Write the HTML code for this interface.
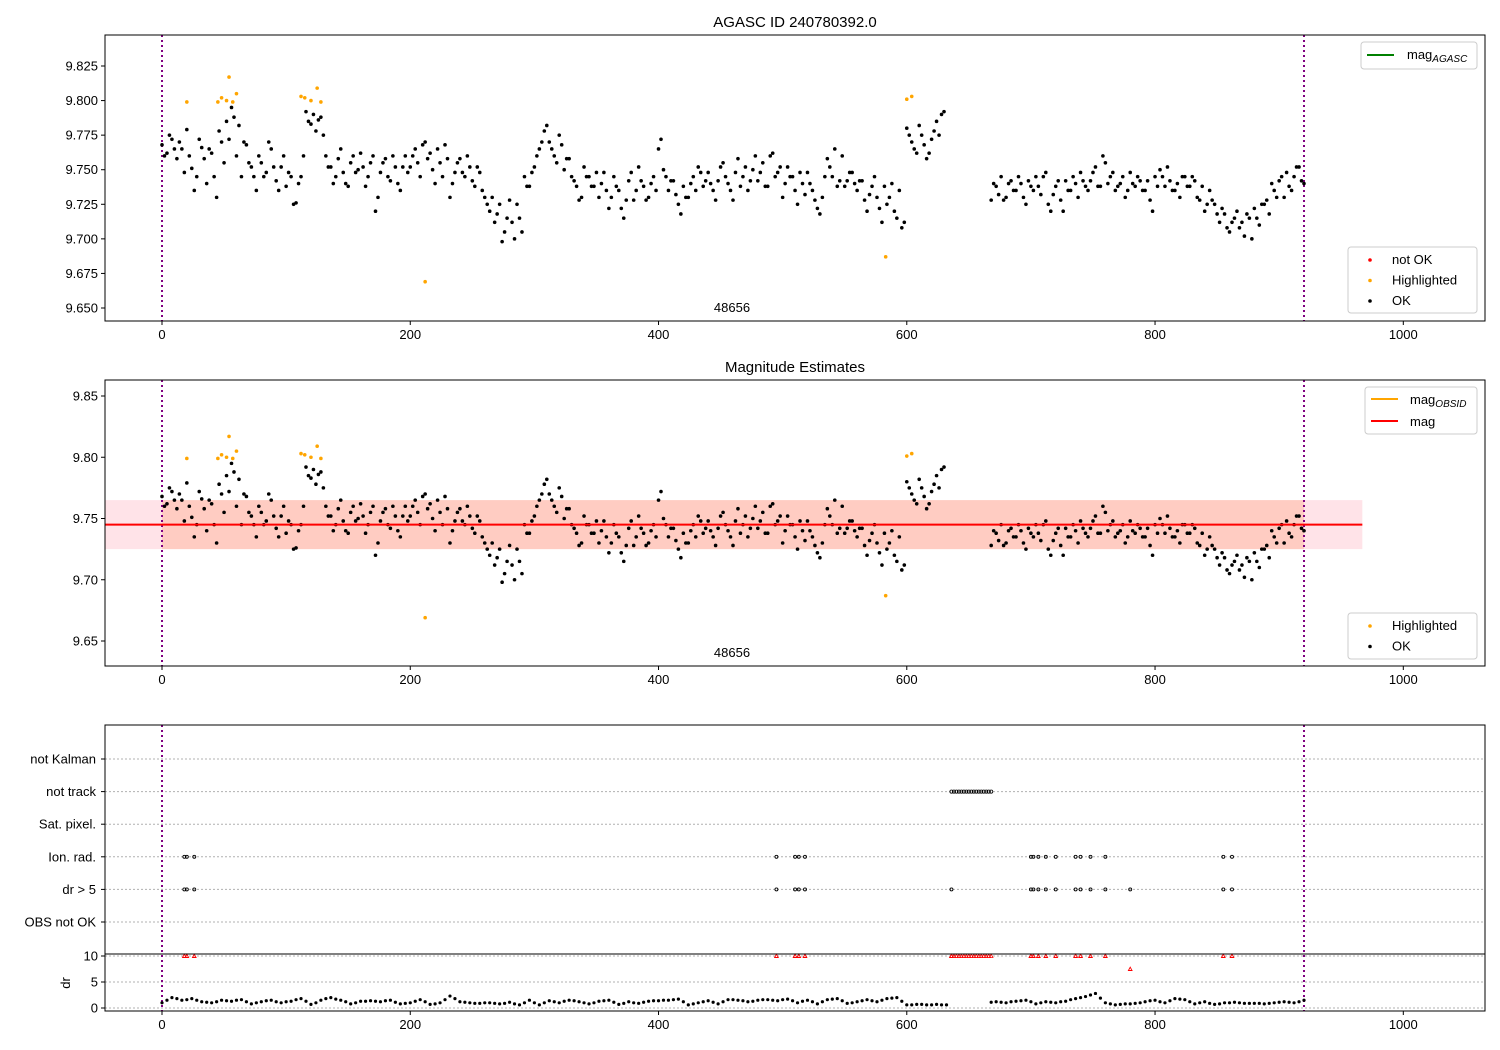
<!DOCTYPE html>
<html><head><meta charset="utf-8"><style>
body{margin:0;background:#fff}
svg{display:block;font-family:"Liberation Sans","DejaVu Sans",sans-serif}
</style></head><body>
<svg id="chart" width="1500" height="1050" xmlns="http://www.w3.org/2000/svg"></svg>
<script>
// ---- data ----
const magValues = [
9.768,9.762,9.772,9.758,9.765,9.779,9.751,9.745,9.766,9.740,
9.762,9.730,9.770,9.785,9.795,9.760,9.745,9.768,9.752,9.735,
9.755,9.748,9.765,9.742,9.752,9.738,9.745,9.726,9.745,9.792,
9.783,9.778,9.788,9.760,9.752,9.745,9.765,9.740,9.755,9.748,
9.762,9.738,9.755,9.720,9.748,9.758,9.742,9.752,9.735,9.760,
9.752,9.765,9.745,9.770,9.762,9.740,9.755,9.768,9.730,9.748,
9.758,9.745,9.752,9.738,9.748,9.730,9.720,9.712,9.725,9.705,
9.728,9.700,9.715,9.745,9.738,9.752,9.765,9.778,9.770,9.760,
9.775,9.750,9.758,9.742,9.728,9.752,9.745,9.738,9.730,9.748,
9.722,9.745,9.735,9.715,9.742,9.728,9.752,9.738,9.730,9.745,
9.765,9.750,9.735,9.742,9.725,9.738,9.730,9.745,9.752,9.738,
9.748,9.735,9.742,9.755,9.740,9.728,9.758,9.745,9.735,9.750,
9.742,9.755,9.738,9.762,9.748,9.730,9.752,9.745,9.725,9.740,
9.748,9.735,9.722,9.730,9.758,9.745,9.738,9.760,9.742,9.748,
9.735,9.742,9.720,9.738,9.730,9.712,9.725,9.740,9.715,9.708,
9.780,9.770,9.762,9.775,9.758,9.772,9.785,9.790,
null,null,null,null,null,null,null,null,null,
9.728,9.738,9.745,9.730,9.742,9.735,9.740,9.725,9.738,9.745,
9.732,9.748,9.720,9.738,9.728,9.742,9.735,9.740,9.748,9.738,
9.742,9.752,9.738,9.755,9.745,9.735,9.740,9.730,9.748,9.738,
9.742,9.735,9.728,9.745,9.750,9.738,9.742,9.735,9.730,9.745,
9.738,9.742,9.728,9.720,9.735,9.725,9.712,9.718,9.705,9.715,
9.708,9.702,9.715,9.722,9.710,9.725,9.718,9.735,9.742,9.730,
9.738,9.745,9.752,9.740];
const magValuesB = [
9.760,9.775,9.765,9.770,9.748,9.760,9.735,9.772,9.758,9.765,
9.745,9.778,9.755,9.772,9.788,9.782,9.770,9.755,9.745,9.760,
9.745,9.770,9.752,9.735,9.760,9.748,9.725,9.740,9.760,9.785,
9.790,9.786,9.775,9.752,9.740,9.758,9.748,9.738,9.760,9.750,
9.752,9.745,9.760,9.730,9.755,9.745,9.760,9.740,9.752,9.748,
9.760,9.755,9.768,9.758,9.750,9.765,9.745,9.758,9.740,9.755,
9.748,9.760,9.742,9.752,9.735,9.725,9.730,9.718,9.698,9.715,
9.712,9.725,9.705,9.738,9.748,9.760,9.770,9.782,9.765,9.755,
9.768,9.758,9.745,9.738,9.730,9.745,9.738,9.748,9.740,9.735,
9.730,9.738,9.722,9.728,9.748,9.735,9.742,9.728,9.740,9.735,
9.772,9.745,9.742,9.732,9.718,9.730,9.740,9.735,9.748,9.742,
9.740,9.728,9.752,9.745,9.735,9.748,9.738,9.752,9.742,9.760,
9.748,9.738,9.760,9.745,9.752,9.740,9.745,9.735,9.748,9.732,
9.740,9.728,9.718,9.745,9.752,9.765,9.742,9.738,9.748,9.740,
9.742,9.728,9.732,9.745,9.722,9.738,9.730,9.720,9.735,9.712,
9.775,9.765,9.782,9.768,9.762,9.778,9.775,9.792,
null,null,null,null,null,null,null,null,null,
9.740,9.732,9.728,9.740,9.735,9.745,9.730,9.742,9.735,9.738,
9.745,9.725,9.732,9.742,9.720,9.735,9.745,9.730,9.742,9.735,
9.748,9.738,9.760,9.740,9.748,9.738,9.745,9.735,9.740,9.745,
9.735,9.742,9.720,9.738,9.745,9.752,9.735,9.740,9.745,9.738,
9.745,9.730,9.738,9.725,9.728,9.718,9.722,9.708,9.712,9.720,
9.712,9.718,9.700,9.715,9.725,9.728,9.740,9.730,9.745,9.748,
9.735,9.752,9.742];
const magStep = 4, magOffsetB = 2;
const hlX = [20,45,48,52,54,57,60,112,115,120,125,128,212,583,600,604];
const hlY = [9.799,9.799,9.802,9.800,9.817,9.799,9.805,9.803,9.802,9.800,9.809,9.799,9.669,9.687,9.801,9.803];
const drValues = [
1.0,2.0,1.5,1.8,1.2,1.0,1.5,1.3,1.6,0.8,
1.2,1.5,1.0,1.3,1.8,0.7,1.5,2.0,1.5,0.8,
1.3,1.4,1.2,1.5,0.8,1.0,1.6,0.7,1.0,2.3,
1.2,1.0,0.9,1.0,0.8,1.1,0.6,1.5,0.6,1.4,
1.0,1.5,1.2,0.8,1.3,1.5,0.7,1.2,0.9,1.3,
1.4,1.5,1.7,0.6,1.0,1.4,0.8,1.6,1.5,1.2,
1.5,1.6,1.4,1.7,1.0,1.5,0.8,1.6,1.8,0.9,
1.2,1.6,1.2,1.8,2.0,0.6,0.7,0.6,0.7,0.6,
null,null,null,null,1.2,1.0,1.3,1.5,0.8,1.2,
1.0,1.3,1.8,2.2,2.8,1.0,0.6,0.8,0.9,1.2,
1.5,1.0,1.8,1.6,0.8,1.2,0.7,1.0,1.1,0.9,
0.9,0.8,1.0,1.2,1.0,1.5];
const drValuesB = [
1.5,1.8,1.6,1.5,1.1,1.2,1.4,1.5,1.2,1.0,
1.4,1.2,1.2,1.6,1.3,1.0,1.8,1.7,1.2,1.0,
1.3,1.3,1.4,1.1,0.9,1.3,1.2,0.8,1.6,1.8,
1.1,0.9,1.0,0.9,0.9,0.8,1.0,1.0,1.0,1.2,
1.3,1.4,1.0,1.0,1.4,1.1,0.9,1.0,1.1,1.4,
1.5,1.6,1.2,0.8,1.2,1.1,1.2,1.6,1.4,1.3,
1.6,1.5,1.6,1.4,1.3,1.2,1.2,1.7,1.4,1.0,
1.4,1.4,1.5,1.9,1.3,0.6,0.7,0.6,0.6,null,
null,null,null,1.1,1.1,1.2,1.4,1.2,1.0,1.1,
1.2,1.6,2.0,2.5,1.9,0.8,0.7,0.8,1.0,1.4,
1.2,1.4,1.7,1.2,1.0,0.9,0.8,1.0,1.0,0.9,
0.9,0.9,1.1,1.1,1.2];
const drStep = 8, drOffsetB = 4;
const ionX = [18,20,26,495,510,513,518,700,702,706,712,720,736,740,748,760,855,862];
const dr5X = [18,20,26,495,510,513,518,636,700,702,706,712,720,736,740,748,760,780,855,862];
const trackStart = 636, trackEnd = 668, trackStep = 2;
const flagNames = ["not Kalman","not track","Sat. pixel.","Ion. rad.","dr > 5","OBS not OK"];
const xTicks = [0,200,400,600,800,1000];
const topTicks = [9.650,9.675,9.700,9.725,9.750,9.775,9.800,9.825];
const midTicks = [9.65,9.70,9.75,9.80,9.85];
const drTicks = [0,5,10];
const meanMag = 9.745, bandLo = 9.725, bandHi = 9.765, bandEnd = 967;
const obsStart = 0, obsEnd = 920;

// ---- helpers ----
const svg = document.getElementById('chart');
const NS = 'http://www.w3.org/2000/svg';
function mk(tag, attrs, parent){const e=document.createElementNS(NS,tag);for(const k in attrs)e.setAttribute(k,attrs[k]);(parent||svg).appendChild(e);return e;}
const L=105,R=1485;
const xs = v => 162 + (v)*1.2413;
function lin(d0,d1,p0,p1){return v=>p0+(v-d0)*(p1-p0)/(d1-d0);}
const yTop = lin(9.650,9.825,308,66);
const yMid = lin(9.65,9.85,641,396);
const yDr = lin(0,10,1008,956);
const flagY = i => 759 + i*32.6;

function frame(y0,y1,name){
  mk('rect',{x:L,y:y0,width:R-L,height:y1-y0,fill:'none',stroke:'#000','stroke-width':1,});
}
function xAxis(yb,g){
  xTicks.forEach(t=>{const x=xs(t);
    mk('line',{x1:x,x2:x,y1:yb,y2:yb+4,stroke:'#000'},g);
    const tx=mk('text',{x:x,y:yb+18,'text-anchor':'middle','font-size':13},g);tx.textContent=t;});
}
function yAxis(ticks,ys,g,fmt){
  ticks.forEach(t=>{const y=ys(t);
    mk('line',{x1:L-4,x2:L,y1:y,y2:y,stroke:'#000'},g);
    const tx=mk('text',{x:L-7,y:y+4.5,'text-anchor':'end','font-size':13},g);tx.textContent=fmt(t);});
}
function vlines(y0,y1,g){
  [obsStart,obsEnd].forEach(v=>mk('line',{x1:xs(v),x2:xs(v),y1:y0,y2:y1,stroke:'#800080','stroke-width':2,'stroke-dasharray':'2,3'},g));
}
function magPoints(ys,g){
  magValues.forEach((v,i)=>{if(v===null)return;
    const c=mk('circle',{cx:xs(i*magStep),cy:ys(v),r:1.8,fill:'#000'},g);
    
    });
  magValuesB.forEach((v,i)=>{if(v===null)return;
    const c=mk('circle',{cx:xs(i*magStep+magOffsetB),cy:ys(v),r:1.8,fill:'#000'},g);
    
    });
  hlX.forEach((x,i)=>{
    const c=mk('circle',{cx:xs(x),cy:ys(hlY[i]),r:1.8,fill:'#ffa500'},g);
    
    });
}
function legendBox(x,y,w,h,g){mk('rect',{x:x,y:y,width:w,height:h,rx:3,fill:'#fff','fill-opacity':0.8,stroke:'#ccc'},g);}
function txt(x,y,s,size,g,anchor){const t=mk('text',{x:x,y:y,'font-size':size,'text-anchor':anchor||'start'},g);t.textContent=s;return t;}
function subLabel(x,y,main,sub,g){const t=mk('text',{x:x,y:y,'font-size':13},g);t.textContent=main;
  const s=mk('tspan',{'font-size':10,'font-style':'italic',dy:3},t);s.textContent=sub;}

// ---- top panel ----
const gTop=mk('g',{});
txt(795,27,'AGASC ID 240780392.0',15,gTop,'middle');
vlines(35,321,gTop);
magPoints(yTop,gTop);
txt(732,312,'48656',13,gTop,'middle');
frame(35,321,'top-axes-frame');
xAxis(321,gTop);yAxis(topTicks,yTop,gTop,t=>t.toFixed(3));
const lg1=mk('g',{},gTop);
legendBox(1361,42,116,27,lg1);mk('line',{x1:1367,x2:1394,y1:55,y2:55,stroke:'#008000','stroke-width':2},lg1);subLabel(1407,59,'mag','AGASC',lg1);
const lg2=mk('g',{},gTop);
legendBox(1348,247,129,66,lg2);
[['not OK','#f00'],['Highlighted','#ffa500'],['OK','#000']].forEach((e,i)=>{mk('circle',{cx:1370,cy:260+i*20.5,r:1.8,fill:e[1]},lg2);txt(1392,264+i*20.5,e[0],13,lg2);});

// ---- middle panel ----
const gMid=mk('g',{});
txt(795,372,'Magnitude Estimates',15,gMid,'middle');
mk('rect',{x:L,y:yMid(bandHi),width:xs(bandEnd)-L,height:yMid(bandLo)-yMid(bandHi),fill:'#ffc0cb','fill-opacity':0.45,},gMid);
mk('rect',{x:xs(obsStart),y:yMid(bandHi),width:xs(obsEnd)-xs(obsStart),height:yMid(bandLo)-yMid(bandHi),fill:'#ffa07a','fill-opacity':0.35,},gMid);
vlines(380,666,gMid);
magPoints(yMid,gMid);
mk('line',{x1:L,x2:xs(bandEnd),y1:yMid(meanMag),y2:yMid(meanMag),stroke:'#f00','stroke-width':2,},gMid);
txt(732,657,'48656',13,gMid,'middle');
frame(380,666,'mid-axes-frame');
xAxis(666,gMid);yAxis(midTicks,yMid,gMid,t=>t.toFixed(2));
const lg3=mk('g',{},gMid);
legendBox(1365,387,112,47,lg3);
mk('line',{x1:1371,x2:1398,y1:399,y2:399,stroke:'#ffa500','stroke-width':2},lg3);subLabel(1410,404,'mag','OBSID',lg3);
mk('line',{x1:1371,x2:1398,y1:421,y2:421,stroke:'#f00','stroke-width':2},lg3);txt(1410,426,'mag',13,lg3);
const lg4=mk('g',{},gMid);
legendBox(1348,613,129,46,lg4);
[['Highlighted','#ffa500'],['OK','#000']].forEach((e,i)=>{mk('circle',{cx:1370,cy:626+i*20.5,r:1.8,fill:e[1]},lg4);txt(1392,630+i*20.5,e[0],13,lg4);});

// ---- bottom panel ----
const gBot=mk('g',{});
flagNames.forEach((n,i)=>{const y=flagY(i);
  mk('line',{x1:L,x2:R,y1:y,y2:y,stroke:'#b0b0b0','stroke-dasharray':'2,2'},gBot);
  mk('line',{x1:L-4,x2:L,y1:y,y2:y,stroke:'#000'},gBot);
  txt(96,y+4.5,n,13,gBot,'end');});
drTicks.forEach(t=>mk('line',{x1:L,x2:R,y1:yDr(t),y2:yDr(t),stroke:'#b0b0b0','stroke-dasharray':'2,2'},gBot));
vlines(725,1011,gBot);
for(let x=trackStart;x<=trackEnd;x+=trackStep){
  const c=mk('circle',{cx:xs(x),cy:flagY(1),r:1.6,fill:'none',stroke:'#000','stroke-width':0.8},gBot);
  
  const r=mk('path',{d:`M${xs(x)-1.8},${yDr(10)+1.5}L${xs(x)},${yDr(10)-1.8}L${xs(x)+1.8},${yDr(10)+1.5}Z`,fill:'none',stroke:'#f00','stroke-width':0.8},gBot);
  
}
ionX.forEach(x=>{const c=mk('circle',{cx:xs(x),cy:flagY(3),r:1.5,fill:'none',stroke:'#000','stroke-width':0.9},gBot);
  });
dr5X.forEach(x=>{const c=mk('circle',{cx:xs(x),cy:flagY(4),r:1.5,fill:'none',stroke:'#000','stroke-width':0.9},gBot);
  
  const v=(x===780)?7.5:10;
  const r=mk('path',{d:`M${xs(x)-1.8},${yDr(v)+1.5}L${xs(x)},${yDr(v)-1.8}L${xs(x)+1.8},${yDr(v)+1.5}Z`,fill:'none',stroke:'#f00','stroke-width':0.9},gBot);
  });
drValues.forEach((v,i)=>{if(v===null)return;
  const c=mk('circle',{cx:xs(i*drStep),cy:yDr(v),r:1.6,fill:'#000'},gBot);
  });
drValuesB.forEach((v,i)=>{if(v===null)return;
  const c=mk('circle',{cx:xs(i*drStep+drOffsetB),cy:yDr(v),r:1.6,fill:'#000'},gBot);
  });
mk('line',{x1:L,x2:R,y1:954,y2:954,stroke:'#000',},gBot);
frame(725,1011,'bottom-axes-frame');
xAxis(1011,gBot);
drTicks.forEach(t=>{const y=yDr(t);mk('line',{x1:L-4,x2:L,y1:y,y2:y,stroke:'#000'},gBot);txt(L-7,y+4.5,t,13,gBot,'end');});
const dl=txt(70,983,'dr',13,gBot,'middle');dl.setAttribute('transform','rotate(-90 70 983)');
</script>
</body></html>
